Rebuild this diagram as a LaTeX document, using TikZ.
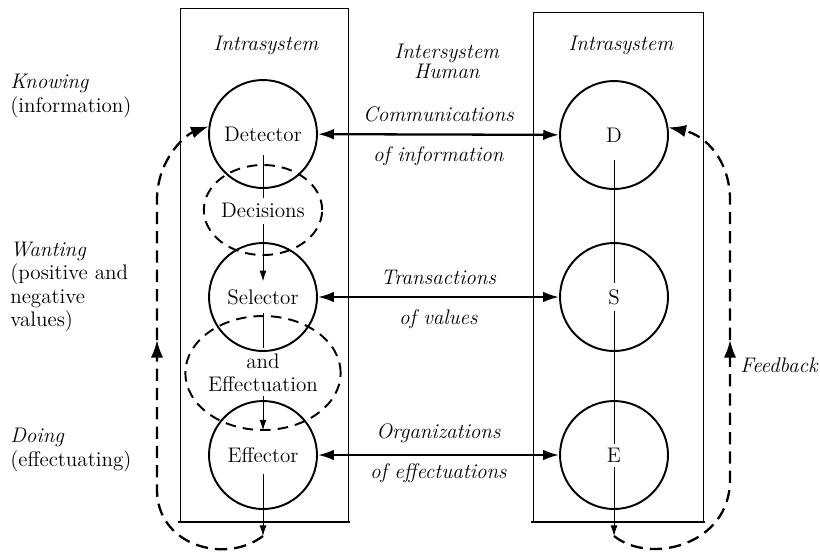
\documentclass[tikz,border=0pt]{standalone}
\usetikzlibrary{arrows.meta,shapes.geometric}
\begin{document}
\begin{tikzpicture}[
  x=0.02cm, y=-0.02cm,
  every node/.style={font=\fontsize{12}{13.4}\selectfont},
  unit/.style={draw=black,circle,line width=1.1pt,minimum size=2.16cm,inner sep=0pt},
  phase/.style={draw=black,ellipse,dash pattern=on 6pt off 4pt,line width=1.1pt,inner sep=0pt,align=center},
  sys/.style={draw=black,line width=0.5pt},
  link/.style={draw=black,{Latex[length=9pt,width=6pt]}-{Latex[length=9pt,width=6pt]},line width=1.3pt},
  flow/.style={draw=black,line width=0.5pt},
  tip/.style={-{Latex[length=6pt,width=4pt]}},
  feed/.style={draw=black,dash pattern=on 7pt off 4pt,line width=1.3pt,-{Latex[length=10pt,width=7pt]}},
  tag/.style={anchor=west,align=left,inner sep=0pt}
]
  \useasboundingbox (0,0) rectangle (820,556);

  \draw[sys] (180,8) rectangle (348,522);
  \draw[sys,line width=1.3pt] (178,522) -- (350,522);
  \draw[sys] (533,12) rectangle (703,522);
  \draw[sys,line width=1.3pt] (531,522) -- (705,522);

  \node (hl) at (266,45) {\textit{Intrasystem}};
  \node[align=center,font=\fontsize{12}{11.5}\selectfont] (hm) at (447,61) {\textit{Intersystem}\\\textit{Human}};
  \node (hr) at (621,45) {\textit{Intrasystem}};

  \node[tag] (know) at (10,96) {\textit{Knowing}\\(information)};
  \node[tag] (want) at (10,287) {\textit{Wanting}\\(positive and\\negative\\values)};
  \node[tag] (doing) at (10,450) {\textit{Doing}\\(effectuating)};
  \node[tag] (fb) at (740,365) {\textit{Feedback}};

  \node[unit] (det) at (263,134) {Detector};
  \node[phase,minimum width=2.16cm,minimum height=1.8cm] (dec) at (263,210) {Decisions};
  \node[unit] (sel) at (263,297) {Selector};
  \node[phase,minimum width=2.8cm,minimum height=2.28cm] (effn) at (263,373) {and\\Effectuation};
  \node[unit] (eff) at (263,455) {Effector};

  \node[unit] (d) at (614,135) {D};
  \node[unit] (s) at (614,297) {S};
  \node[unit] (e) at (614,455) {E};

  \draw[link] (det) -- node[above=3pt] {\textit{Communications}} node[below=3pt] {\textit{of information}} (d);
  \draw[link] (sel) -- node[above=3pt] {\textit{Transactions}} node[below=3pt] {\textit{of values}} (s);
  \draw[link] (eff) -- node[above=3pt] {\textit{Organizations}} node[below=1pt] {\textit{of effectuations}} (e);

  \coordinate (outl) at (263,536);
  \coordinate (outr) at (614,536);
  \draw[flow] ([yshift=-12pt]det.center) -- ([yshift=7pt]dec.center);
  \draw[flow,tip] ([yshift=-8pt]dec.center) -- ([yshift=9pt]sel.center);
  \draw[flow] ([yshift=-9pt]sel.center) -- ([yshift=14pt]effn.center);
  \draw[flow,tip] ([yshift=-13pt]effn.center) -- ([yshift=14pt]eff.center);
  \draw[flow,tip] ([yshift=-11pt]eff.center) -- (outl);

  \draw[flow] ([yshift=-14pt]d.center) -- ([yshift=8pt]s.center);
  \draw[flow] ([yshift=-8pt]s.center) -- ([yshift=6pt]e.center);
  \draw[flow,tip] ([yshift=-7pt]e.center) -- (outr);

  \coordinate (fbl) at (157,340);
  \coordinate (fbr) at (730,340);
  \draw[feed] (outl) .. controls (225,565) and (157,545) .. (157,490) -- (fbl);
  \draw[feed] (fbl) -- (157,200) .. controls (157,160) and (185,135) .. (det.172);
  \draw[feed] (outr) .. controls (650,565) and (730,545) .. (730,480) -- (fbr);
  \draw[feed] (fbr) -- (730,200) .. controls (730,160) and (705,135) .. (d.8);
\end{tikzpicture}
\end{document}
